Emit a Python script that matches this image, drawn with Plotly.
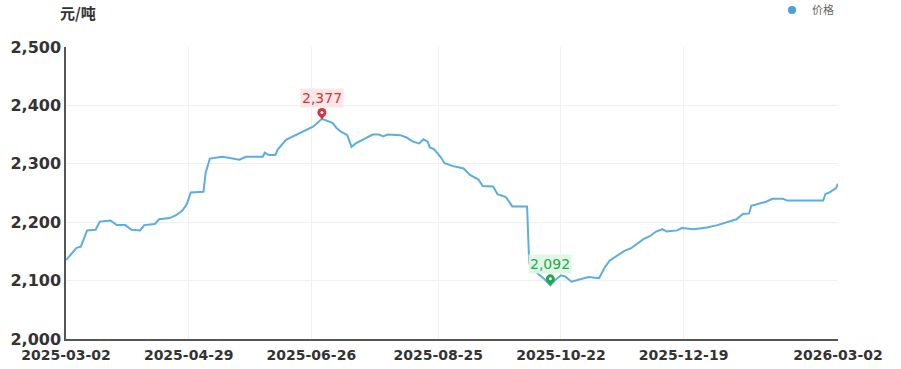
import plotly.graph_objects as go

dates = [
    "2025-03-02", "2025-03-04", "2025-03-07", "2025-03-09", "2025-03-12", "2025-03-16",
    "2025-03-18", "2025-03-23", "2025-03-26", "2025-03-30", "2025-04-02", "2025-04-06",
    "2025-04-08", "2025-04-13", "2025-04-15", "2025-04-20", "2025-04-23", "2025-04-26",
    "2025-04-28", "2025-04-30", "2025-05-06", "2025-05-07", "2025-05-09", "2025-05-15",
    "2025-05-23", "2025-05-26", "2025-06-03", "2025-06-04", "2025-06-06", "2025-06-09",
    "2025-06-10", "2025-06-14", "2025-06-21", "2025-06-27", "2025-07-01", "2025-07-06",
    "2025-07-08", "2025-07-10", "2025-07-13", "2025-07-15", "2025-07-17", "2025-07-20",
    "2025-07-22", "2025-07-25", "2025-07-28", "2025-07-30", "2025-08-01", "2025-08-07",
    "2025-08-10", "2025-08-13", "2025-08-16", "2025-08-18", "2025-08-20", "2025-08-21",
    "2025-08-23", "2025-08-26", "2025-08-28", "2025-09-01", "2025-09-06", "2025-09-09",
    "2025-09-13", "2025-09-15", "2025-09-20", "2025-09-22", "2025-09-26", "2025-09-29",
    "2025-10-06", "2025-10-07", "2025-10-11", "2025-10-14", "2025-10-17", "2025-10-19",
    "2025-10-22", "2025-10-24", "2025-10-27", "2025-10-31", "2025-11-04", "2025-11-09",
    "2025-11-12", "2025-11-14", "2025-11-17", "2025-11-21", "2025-11-24", "2025-11-27",
    "2025-11-30", "2025-12-03", "2025-12-06", "2025-12-09", "2025-12-11", "2025-12-16",
    "2025-12-18", "2025-12-24", "2025-12-30", "2026-01-04", "2026-01-10", "2026-01-13",
    "2026-01-16", "2026-01-19", "2026-01-20", "2026-01-24", "2026-01-27", "2026-01-30",
    "2026-02-04", "2026-02-06", "2026-02-23", "2026-02-24", "2026-02-26", "2026-03-01",
    "2026-03-02",
]
prices = [
    2135, 2144, 2156, 2158, 2186, 2187,
    2201, 2203, 2195, 2195, 2187, 2186,
    2195, 2197, 2205, 2207, 2212, 2220,
    2230, 2251, 2252, 2284, 2309, 2312,
    2307, 2312, 2312, 2319, 2315, 2315,
    2324, 2341, 2353, 2364, 2377, 2370,
    2361, 2355, 2349, 2329, 2335, 2341,
    2344, 2350, 2350, 2347, 2350, 2349,
    2345, 2338, 2335, 2342, 2338, 2328,
    2325, 2312, 2301, 2296, 2292, 2281,
    2273, 2262, 2261, 2248, 2243, 2227,
    2227, 2130, 2112, 2103, 2092, 2100,
    2109, 2107, 2098, 2102, 2106, 2104,
    2124, 2134, 2141, 2151, 2155, 2163,
    2171, 2176, 2184, 2188, 2184, 2186,
    2190, 2188, 2191, 2195, 2201, 2205,
    2214, 2215, 2228, 2232, 2235, 2240,
    2240, 2237, 2237, 2248, 2251, 2258,
    2266,
]
tick_dates = ["2025-03-02", "2025-04-29", "2025-06-26", "2025-08-25",
              "2025-10-22", "2025-12-19", "2026-03-02"]
y_ticks = [2000, 2100, 2200, 2300, 2400, 2500]
series_name = "价格"
unit_label = "元/吨"

line_color = "#5aaee0"
max_i = prices.index(max(prices))
min_i = prices.index(min(prices))

fig = go.Figure()
fig.add_trace(go.Scatter(x=dates, y=prices, mode="lines", name=series_name,
                         line=dict(color=line_color, width=2), showlegend=False,
                         hoverinfo="x+y"))
# legend dot
fig.add_trace(go.Scatter(x=[None], y=[None], mode="markers", name=series_name,
                         marker=dict(color="#4a9fe0", size=8)))

# pins for max / min
for idx, col, bg in [(max_i, "#d6333d", "rgba(252,228,228,0.9)"),
                     (min_i, "#1fa84e", "rgba(222,245,226,0.9)")]:
    xv, yv = dates[idx], prices[idx]
    fig.add_trace(go.Scatter(x=[xv], y=[yv + 5], mode="markers", showlegend=False,
                             marker=dict(symbol="triangle-down", size=7, color=col),
                             hoverinfo="skip"))
    fig.add_trace(go.Scatter(x=[xv], y=[yv + 11], mode="markers", showlegend=False,
                             marker=dict(symbol="circle", size=9, color=col),
                             hoverinfo="skip"))
    fig.add_trace(go.Scatter(x=[xv], y=[yv + 11], mode="markers", showlegend=False,
                             marker=dict(symbol="circle", size=3, color="white"),
                             hoverinfo="skip"))
    fig.add_annotation(x=xv, y=yv, text=f"{yv:,}", showarrow=False,
                       yshift=21, yanchor="middle",
                       font=dict(family="DejaVu Sans", size=14, color=col),
                       bgcolor=bg, borderpad=1)

fig.add_annotation(xref="paper", yref="paper", x=-0.01, y=(339 - 13) / 292,
                   xanchor="left", yanchor="middle", text=f"<b>{unit_label}</b>",
                   showarrow=False,
                   font=dict(family="Noto Sans CJK SC", size=15, color="#333"))

fig.update_layout(
    width=901, height=369,
    margin=dict(l=66, r=63, t=47, b=30, autoexpand=False),
    plot_bgcolor="white", paper_bgcolor="white",
    showlegend=True,
    legend=dict(x=(772 - 66) / 772, y=(339 - 10) / 292, xanchor="left",
                yanchor="middle",
                font=dict(family="Noto Sans CJK SC", size=11, color="#666"),
                bgcolor="rgba(0,0,0,0)", itemwidth=30),
    xaxis=dict(type="date", range=["2025-03-02", "2026-03-02"],
               tickvals=tick_dates, ticktext=tick_dates,
               showgrid=True, gridcolor="#f0f0f0", gridwidth=1,
               showline=True, linecolor="#555", linewidth=1.5,
               ticks="", ticklabelstandoff=2,
               tickfont=dict(family="DejaVu Sans", size=14, color="#333",
                             weight="bold"),
               zeroline=False),
    yaxis=dict(range=[2000, 2500], tickvals=y_ticks, tickformat=",",
               showgrid=True, gridcolor="#f0f0f0", gridwidth=1,
               showline=True, linecolor="#555", linewidth=1.5,
               ticks="", tickfont=dict(family="DejaVu Sans", size=16, color="#333",
                                       weight="bold"),
               zeroline=False),
)

fig.write_html("out.html")
